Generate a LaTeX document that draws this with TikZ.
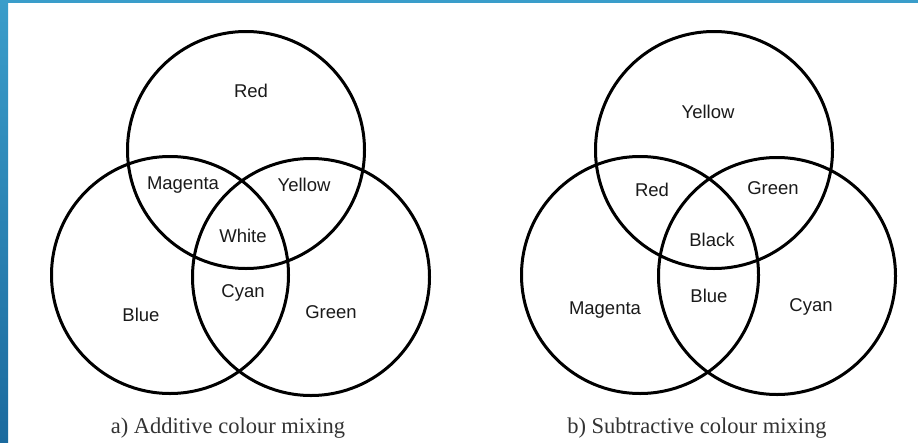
\documentclass[tikz,border=0pt]{standalone}
\usepackage{fontspec}
\setmainfont{Liberation Serif}
\newfontfamily\labfont{Liberation Sans}
\definecolor{bartop}{HTML}{3A9DCA}
\definecolor{barbot}{HTML}{1B6A9E}
\definecolor{inkc}{HTML}{1A1A1A}
\definecolor{capc}{HTML}{333333}
\begin{document}
\begin{tikzpicture}[x={(1pt,0)},y={(0,-1pt)},
  ring/.style={circle,draw=black,line width=3pt,minimum size=237pt,inner sep=0pt},
  lab/.style={font=\labfont\fontsize{18.5}{21}\selectfont,text=inkc,inner sep=0pt},
  captext/.style={font=\fontsize{22.5}{26}\selectfont,text=capc,inner sep=0pt}]
\useasboundingbox (0,0) rectangle (918,442);
\fill[white] (0,0) rectangle (918,442);
\shade[top color=bartop,bottom color=barbot] (0,0) rectangle (8,442);
\fill[bartop] (0,0) rectangle (918,3);
% additive
\node[ring] (aR) at (246,150) {};
\node[ring] (aB) at (170,275) {};
\node[ring] (aG) at (311,277) {};
\node[lab] (tRed) at (251,91) {Red};
\node[lab] (tMag) at (183,185) {Magenta};
\node[lab] (tYel) at (304,185) {Yellow};
\node[lab] (tWhi) at (243,236) {White};
\node[lab] (tCya) at (243,293) {Cyan};
\node[lab] (tBlu) at (141,315) {Blue};
\node[lab] (tGre) at (331,312) {Green};
\node[captext] (capA) at (228,428) {a) Additive colour mixing};
% subtractive
\node[ring] (sY) at (714,150) {};
\node[ring] (sM) at (640,275) {};
\node[ring] (sC) at (777,276) {};
\node[lab] (uYel) at (708,112) {Yellow};
\node[lab] (uRed) at (652,190) {Red};
\node[lab] (uGre) at (773,188) {Green};
\node[lab] (uBla) at (712,240) {Black};
\node[lab] (uBlu) at (709,296) {Blue};
\node[lab] (uMag) at (605,310) {Magenta};
\node[lab] (uCya) at (811,307) {Cyan};
\node[captext] (capB) at (697,428) {b) Subtractive colour mixing};
\end{tikzpicture}
\end{document}
